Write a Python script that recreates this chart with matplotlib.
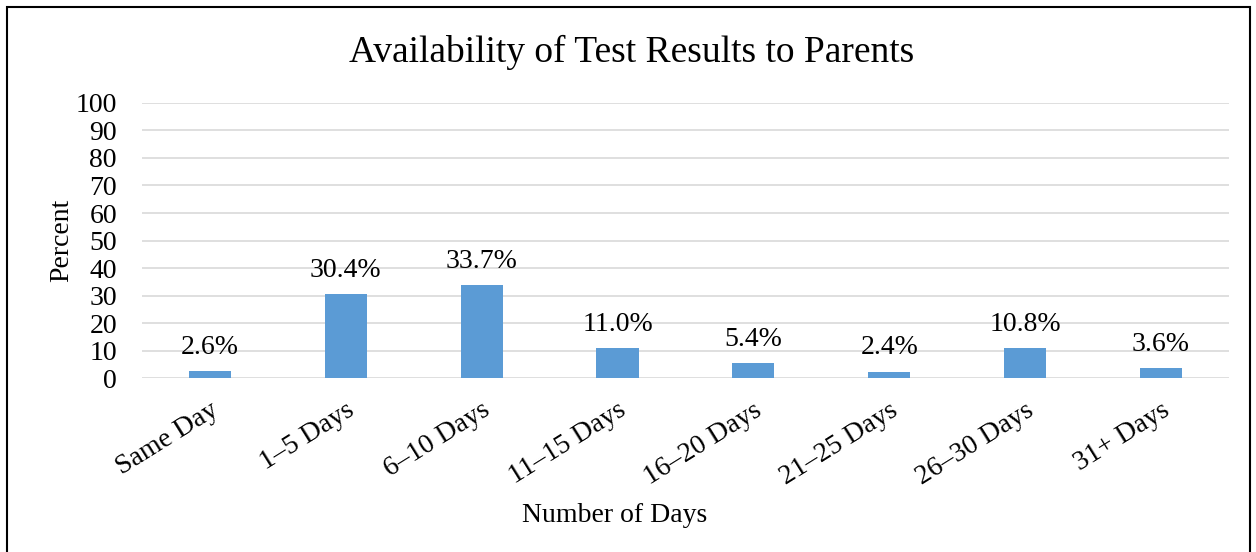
import matplotlib.pyplot as plt
from matplotlib.patches import Rectangle

categories = ['Same Day', '1–5 Days', '6–10 Days', '11–15 Days',
              '16–20 Days', '21–25 Days', '26–30 Days', '31+ Days']
percent = [2.6, 30.4, 33.7, 11.0, 5.4, 2.4, 10.8, 3.6]
yticks = [0, 10, 20, 30, 40, 50, 60, 70, 80, 90, 100]

plt.rcParams['font.family'] = ['Liberation Serif', 'DejaVu Serif']

fig = plt.figure(figsize=(12.56, 5.52), dpi=100)
ax = fig.add_axes([0.113, 0.315, 0.8655, 0.4985])

x = range(len(categories))
ax.bar(x, percent, width=0.31, color='#5B9BD5', zorder=3)

for xi, v in zip(x, percent):
    ax.annotate(f'{v:.1f}%', (xi, v), xytext=(0, 8), textcoords='offset points',
                ha='center', va='bottom', fontsize=20)

ax.set_xlim(-0.5, len(categories) - 0.5)
ax.set_ylim(0, 100)
ax.set_yticks(yticks)
ax.set_yticklabels([str(t) for t in yticks], fontsize=20)
ax.set_xticks(list(x))
ax.set_xticklabels(categories, rotation=32, ha='right', rotation_mode='anchor', fontsize=20)
ax.tick_params(axis='both', length=0)
ax.tick_params(axis='y', pad=18)
ax.tick_params(axis='x', pad=14)
ax.grid(axis='y', color='#D9D9D9', linewidth=1.2, zorder=0)
for s in ax.spines.values():
    s.set_visible(False)

ax.set_ylabel('Percent', fontsize=20)
ax.set_xlabel('Number of Days', fontsize=20)
ax.xaxis.set_label_coords(0.435, -0.455)
ax.yaxis.set_label_coords(-0.062, 0.5)

fig.text(0.503, 0.905, 'Availability of Test Results to Parents', ha='center', va='center', fontsize=27)

fig.patches.append(Rectangle((7 / 1256, -0.02), 1243 / 1256, 1 - 7 / 552 + 0.02,
                             transform=fig.transFigure, fill=False,
                             edgecolor='black', linewidth=1.5))

fig.savefig('out.png', dpi=100)
